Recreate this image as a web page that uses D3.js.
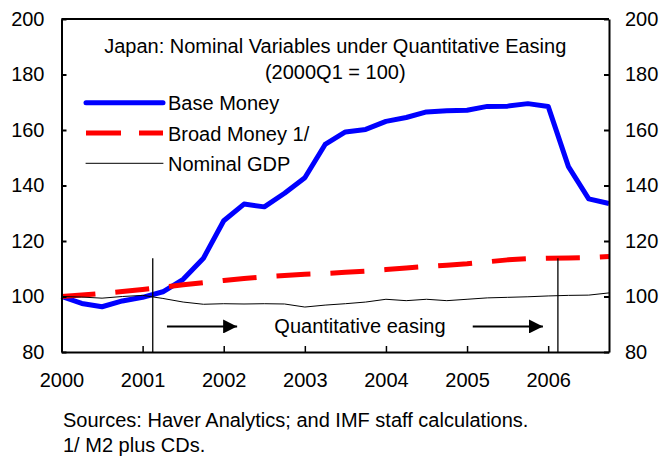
<!DOCTYPE html>
<html>
<head>
<meta charset="utf-8">
<script src="https://cdn.jsdelivr.net/npm/d3@7"></script>
<style>
  body { margin: 0; background: #fff; }
  svg text { font-family: Arial, "Liberation Sans", sans-serif; fill: #000; }
</style>
</head>
<body>
<svg id="chart" width="666" height="456"></svg>
<script>
// Quarterly observations, 2000Q1 = 100.
const quarters = [
  '2000Q1', '2000Q2', '2000Q3', '2000Q4',
  '2001Q1', '2001Q2', '2001Q3', '2001Q4',
  '2002Q1', '2002Q2', '2002Q3', '2002Q4',
  '2003Q1', '2003Q2', '2003Q3', '2003Q4',
  '2004Q1', '2004Q2', '2004Q3', '2004Q4',
  '2005Q1', '2005Q2', '2005Q3', '2005Q4',
  '2006Q1', '2006Q2', '2006Q3', '2006Q4',
];
const baseMoney = [
  100, 97.5, 96.3, 98.4, 99.7, 101.7, 106.2, 113.8,
  127.3, 133.3, 132.3, 137.2, 142.8, 154.8, 159.3, 160.2,
  163.1, 164.5, 166.5, 166.9, 167.1, 168.5, 168.6, 169.5,
  168.5, 146.8, 135.2, 133.5,
];
const broadMoney = [
  100, 100.5, 101.1, 101.8, 102.5, 103.3, 104.2, 105.0,
  105.8, 106.5, 107.1, 107.6, 108.0, 108.3, 108.7, 109.1,
  109.7, 110.3, 110.8, 111.3, 111.8, 112.5, 113.2, 113.6,
  113.8, 113.9, 114.0, 114.4,
];
const nominalGdp = [
  100, 99.8, 99.4, 100.0, 100.4, 99.3, 98.0, 97.2,
  97.4, 97.3, 97.4, 97.3, 96.2, 96.9, 97.4, 98.0,
  99.0, 98.5, 99.0, 98.5, 99.0, 99.5, 99.7, 99.9,
  100.2, 100.4, 100.5, 101.3,
];
const seriesNames = ['Base Money', 'Broad Money 1/', 'Nominal GDP'];
const yearTicks = [2000, 2001, 2002, 2003, 2004, 2005, 2006];
const valueTicks = [80, 100, 120, 140, 160, 180, 200];
// Quantitative easing period (fractional years).
const qeStart = 2001.125;
const qeEnd = 2006.12;

const titleLines = [
  'Japan: Nominal Variables under Quantitative Easing',
  '(2000Q1 = 100)',
];
const footnotes = [
  'Sources: Haver Analytics; and IMF staff calculations.',
  '1/ M2 plus CDs.',
];

const plot = {left: 61.5, right: 609, top: 19, bottom: 352};
const fontSize = '20px';

const toYear = (q) => +q.slice(0, 4) + (+q.slice(5) - 1) / 4;

const x = d3.scaleLinear()
  .domain([2000, toYear(quarters[quarters.length - 1])])
  .range([plot.left, plot.right]);
const y = d3.scaleLinear()
  .domain([80, 200])
  .range([plot.bottom, plot.top]);

const svg = d3.select('#chart');

// Series, first series drawn underneath.
const series = [
  {name: seriesNames[0], values: baseMoney, stroke: '#0000ff', width: 5, dash: null},
  {name: seriesNames[1], values: broadMoney, stroke: '#ff0000', width: 5, dash: '34,20'},
  {name: seriesNames[2], values: nominalGdp, stroke: '#000', width: 1, dash: null},
];

const line = d3.line()
  .x((d, i) => x(toYear(quarters[i])))
  .y((d) => y(d));

svg.append('g')
  .selectAll('path')
  .data(series)
  .join('path')
  .attr('d', (s) => line(s.values))
  .attr('fill', 'none')
  .attr('stroke', (s) => s.stroke)
  .attr('stroke-width', (s) => s.width)
  .attr('stroke-dasharray', (s) => s.dash)
  .attr('stroke-linejoin', 'round');

// Axes. Ticks point into the plot.
const axisFont = (g) => g.selectAll('text').style('font-size', fontSize);

svg.append('g')
  .attr('transform', `translate(${plot.left},0)`)
  .call(d3.axisLeft(y).tickValues(valueTicks).tickSizeInner(-5).tickSizeOuter(0).tickPadding(17))
  .call(axisFont)
  .call((g) => g.selectAll('line, path').attr('stroke', '#000').attr('stroke-width', 2));

svg.append('g')
  .attr('transform', `translate(${plot.right},0)`)
  .call(d3.axisRight(y).tickValues(valueTicks).tickSizeInner(-5).tickSizeOuter(0).tickPadding(16))
  .call(axisFont)
  .call((g) => g.selectAll('line, path').attr('stroke', '#000').attr('stroke-width', 2));

svg.append('g')
  .attr('transform', `translate(0,${plot.bottom})`)
  .call(d3.axisBottom(x).tickValues(yearTicks).tickFormat(d3.format('d'))
    .tickSizeInner(-6).tickSizeOuter(0).tickPadding(21))
  .call(axisFont)
  .call((g) => g.select('.domain').attr('stroke', '#000').attr('stroke-width', 2))
  .call((g) => g.selectAll('.tick line').attr('stroke', '#000').attr('stroke-width', 1.5));

svg.append('line')
  .attr('x1', plot.left).attr('x2', plot.right)
  .attr('y1', plot.top).attr('y2', plot.top)
  .attr('stroke', '#000').attr('stroke-width', 2);

// QE markers: vertical rules, arrows and label.
svg.append('g')
  .selectAll('line')
  .data([qeStart, qeEnd])
  .join('line')
  .attr('x1', (d) => x(d)).attr('x2', (d) => x(d))
  .attr('y1', y(113.8)).attr('y2', plot.bottom)
  .attr('stroke', '#000').attr('stroke-width', 1.3);

svg.append('defs').append('marker')
  .attr('id', 'qe-arrow')
  .attr('viewBox', '0 0 14 14')
  .attr('refX', 14).attr('refY', 7)
  .attr('markerUnits', 'userSpaceOnUse')
  .attr('markerWidth', 14).attr('markerHeight', 14)
  .attr('orient', 'auto')
  .append('path')
  .attr('d', 'M 0,0 L 14,7 L 0,14 z')
  .attr('fill', '#000');

const arrowY = y(89.2);
svg.append('g')
  .selectAll('line')
  .data([[2001.3, 2002.19], [2005.07, 2005.96]])
  .join('line')
  .attr('x1', (d) => x(d[0])).attr('x2', (d) => x(d[1]) - 2)
  .attr('y1', arrowY).attr('y2', arrowY)
  .attr('stroke', '#000').attr('stroke-width', 2)
  .attr('marker-end', 'url(#qe-arrow)');

svg.append('text')
  .attr('x', x(2003.68)).attr('y', 333)
  .attr('text-anchor', 'middle')
  .style('font-size', fontSize)
  .text('Quantitative easing');

// Title.
svg.append('g')
  .selectAll('text')
  .data(titleLines)
  .join('text')
  .attr('x', (plot.left + plot.right) / 2)
  .attr('y', (d, i) => 53 + i * 26)
  .attr('text-anchor', 'middle')
  .style('font-size', fontSize)
  .text((d) => d);

// Legend.
const legend = svg.append('g')
  .selectAll('g')
  .data(series)
  .join('g')
  .attr('transform', (d, i) => `translate(0,${102.7 + i * 30.3})`);

legend.append('line')
  .attr('x1', 86).attr('x2', 163)
  .attr('stroke', (s) => s.stroke)
  .attr('stroke-width', (s) => s.width)
  .attr('stroke-dasharray', (s) => (s.dash ? '35,18' : null))
  .attr('stroke-linecap', (s) => (s.dash ? 'butt' : 'round'));

legend.append('text')
  .attr('x', 168)
  .attr('y', 7.5)
  .style('font-size', fontSize)
  .text((s) => s.name);

// Footnotes.
svg.append('g')
  .selectAll('text')
  .data(footnotes)
  .join('text')
  .attr('x', 63)
  .attr('y', (d, i) => 427 + i * 25)
  .style('font-size', fontSize)
  .text((d) => d);
</script>
</body>
</html>
